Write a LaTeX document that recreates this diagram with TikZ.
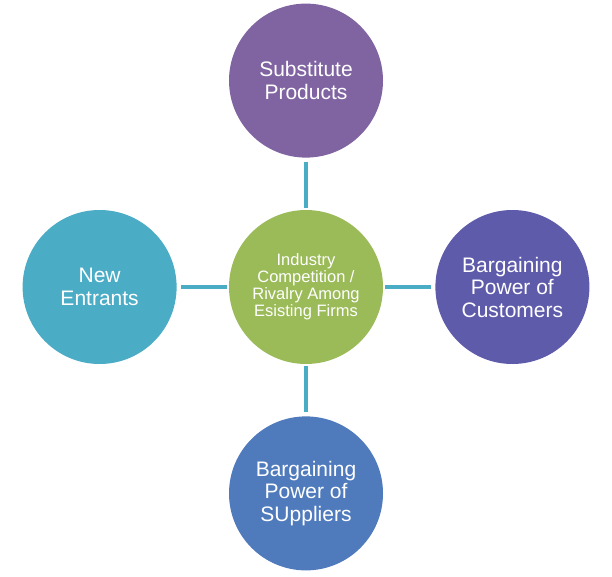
\documentclass[tikz,border=0pt]{standalone}
\usepackage{fontspec}
\setmainfont{Liberation Sans}
\usepackage{xcolor}
\usetikzlibrary{positioning}
\definecolor{forcepurple}{HTML}{8064A2}
\definecolor{forceteal}{HTML}{4BACC6}
\definecolor{forcegreen}{HTML}{9BBB59}
\definecolor{forceviolet}{HTML}{5F5BAB}
\definecolor{forceblue}{HTML}{4F7BBD}

\begin{document}
\begin{tikzpicture}[
    x=1pt, y=-1pt,
    force/.style={circle, minimum size=154pt, inner sep=0pt, align=center,
                  text=white, font=\fontsize{21}{22.5}\selectfont},
    link/.style={draw=forceteal, line width=3.5pt, shorten <=1.5pt, shorten >=4.5pt},
    node distance=52pt,
  ]
  \useasboundingbox (0,0) rectangle (612,577);
  \node[force, fill=forcegreen, font=\fontsize{16.5}{17}\selectfont] at (306,287) (core)
        {Industry\\ Competition /\\ Rivalry Among\\ Esisting Firms};
  \node[force, fill=forcepurple, above=of core] (subst) {Substitute\\ Products};
  \node[force, fill=forceteal, left=of core] (entr) {New\\ Entrants};
  \node[force, fill=forceviolet, right=of core] (cust) {Bargaining\\ Power of\\ Customers};
  \node[force, fill=forceblue, below=of core] (supp) {Bargaining\\ Power of\\ SUppliers};

  \draw[link] (core) -- (subst);
  \draw[link] (core) -- (entr);
  \draw[link] (core) -- (cust);
  \draw[link] (core) -- (supp);
\end{tikzpicture}
\end{document}
